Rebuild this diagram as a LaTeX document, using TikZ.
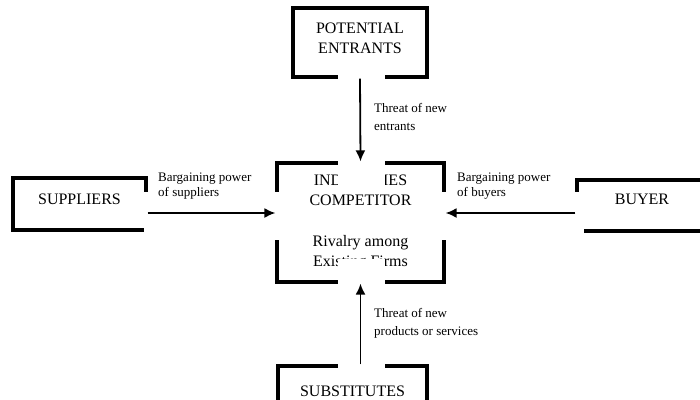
\documentclass[tikz,border=0pt]{standalone}
\usepackage{fontspec}
\setmainfont{Liberation Serif}
\usetikzlibrary{arrows.meta,positioning}

\tikzset{
  force/.style={draw, line width=3.2pt, align=center, inner sep=0pt,
    font=\fontsize{16}{20}\selectfont},
  push/.style={-{Latex[length=11pt,width=10pt]}, line width=1.8pt},
  note/.style={align=left, anchor=north west, inner sep=0pt,
    font=\fontsize{13}{15}\selectfont}
}

\begin{document}
\begin{tikzpicture}[x=1pt,y=-1pt]
    \useasboundingbox (0,0) rectangle (700,399);

    % the five forces
    \node[force, minimum width=134pt, minimum height=69pt, text depth=9pt]
        (entrants) at (360,42.5) {POTENTIAL\\ENTRANTS};
    \node[force, minimum width=167pt, minimum height=119pt]
        (industry) at (360.5,222.5)
        {INDUSTRIES\\COMPETITOR\\[21pt]Rivalry among\\Existing Firms};
    \node[force, minimum width=133pt, minimum height=52pt, text depth=10pt]
        (suppliers) at (79.5,204) {SUPPLIERS};
    \node[force, minimum width=130pt, minimum height=51pt, text depth=13pt]
        (buyer) at (642,205.5) {BUYER};
    \node[force, minimum width=149pt, minimum height=50pt]
        (subst) at (352.5,391) {SUBSTITUTES};

    % white boxes round the arrows
    \fill[white] (338,70) rectangle (385,191);
    \fill[white] (338,259) rectangle (385,372);
    \fill[white] (144,192) rectangle (280,240);
    \fill[white] (442,192) rectangle (584,240);

    % arrows
    \draw[push] (entrants.south) -- (industry.north);
    \draw[push] (subst.north -| industry.south) -- (industry.south);
    \draw[push] ([yshift=-9pt]suppliers.east) -- ([yshift=-9pt]suppliers.east -| industry.west);
    \draw[push] ([yshift=-7.5pt]buyer.west) -- ([yshift=-7.5pt]buyer.west -| industry.east);

    % labels
    \node[note, font=\fontsize{13}{18}\selectfont] (lblnew) at (374,103) {Threat of new\\entrants};
    \node[note, font=\fontsize{13}{18}\selectfont] (lblsub) at (374,308) {Threat of new\\products or services};
    \node[note] (lblsup) at (158,173) {Bargaining power\\of suppliers};
    \node[note] (lblbuy) at (457,173) {Bargaining power\\of buyers};

\end{tikzpicture}
\end{document}
